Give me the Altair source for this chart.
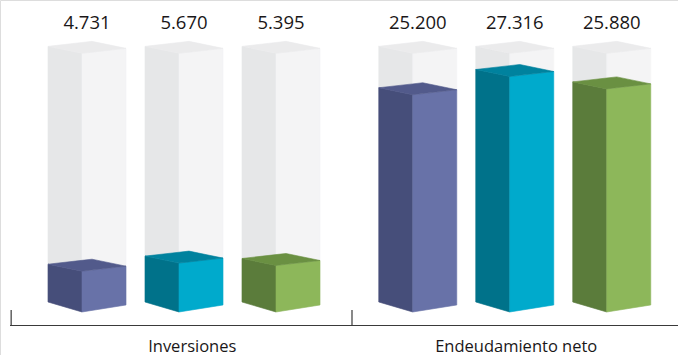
import altair as alt
import pandas as pd

# ---- data ----
groups = ["Inversiones", "Endeudamiento neto"]
inversiones = [4.731, 5.670, 5.395]
endeudamiento = [25.200, 27.316, 25.880]
background_max = 30.0

# colours per series: (left face, right face, top face)
series_colors = [
    ("#464e7a", "#6872a8", "#525a8b"),
    ("#00728a", "#00aacc", "#00829e"),
    ("#5b7c3b", "#8db75a", "#6a9042"),
]
gray_colors = ("#e6e7e8", "#f4f4f5", "#ebebec")

# ---- geometry style constants (slot units on x, pixel offsets converted on y) ----
PX_PER_UNIT = 8.62
k = 1.0 / PX_PER_UNIT
GROUP_START = [0.0, 3.41]
LABEL_SHIFT = [0.085, 0.015]
W = 0.804   # box width
A = 0.3505  # left face width
TL, TR, TB = 7, 5, 12    # top corner offsets (px): left, right, back
BL, BR = 10, 7           # bottom corner offsets (px): left, right

def box_rows(pid, xl, v, cols):
    xf, xa, xr = xl + A, xl + (W - A), xl + W
    rows = []
    # left face
    rows += [(pid + "L", xl, v + TL * k, BL * k, cols[0]),
             (pid + "L", xf, v, 0.0, cols[0])]
    # right face
    rows += [(pid + "R", xf, v, 0.0, cols[1]),
             (pid + "R", xr, v + TR * k, BR * k, cols[1])]
    # top face (parallelogram)
    B = W - A
    up_f = v + (TL + (TB - TL) * (A / B)) * k
    lo_a = v + TR * ((B - A) / (W - A)) * k
    rows += [(pid + "T", xl, v + TL * k, v + TL * k, cols[2]),
             (pid + "T", xf, up_f, v, cols[2]),
             (pid + "T", xa, v + TB * k, lo_a, cols[2]),
             (pid + "T", xr, v + TR * k, v + TR * k, cols[2])]
    return rows

gray_rows, color_rows, labels = [], [], []
for g, vals in enumerate([inversiones, endeudamiento]):
    for i, v in enumerate(vals):
        xl = GROUP_START[g] + i
        pid = f"{g}{i}"
        gray_rows += box_rows("g" + pid, xl, background_max, gray_colors)
        color_rows += box_rows("c" + pid, xl, v, series_colors[i])
        labels.append({"x": xl + W / 2, "y": background_max, "label": f"{v:.3f}"})

cols = ["pid", "x", "y", "y2", "col"]
gray_df = pd.DataFrame(gray_rows, columns=cols)
color_df = pd.DataFrame(color_rows, columns=cols)
label_df = pd.DataFrame(labels)
group_df = pd.DataFrame({
    "x": [s + (2 + W) / 2 + d for s, d in zip(GROUP_START, LABEL_SHIFT)],
    "label": groups,
})
tick_df = pd.DataFrame({"x": [GROUP_START[0] - 0.38,
                              (GROUP_START[0] + 2 + W + GROUP_START[1]) / 2 + 0.027]})

xs = alt.Scale(domain=[-0.495, 6.495], nice=False, zero=False)
ys = alt.Scale(domain=[-4.99, 36.19], nice=False, zero=False)

def faces(df):
    return alt.Chart(df).mark_area(orient="vertical", strokeWidth=0.6).encode(
        x=alt.X("x:Q", scale=xs, axis=None),
        y=alt.Y("y:Q", scale=ys, axis=None),
        y2="y2:Q",
        detail="pid:N",
        color=alt.Color("col:N", scale=None),
        stroke=alt.Stroke("col:N", scale=None),
    )

values_text = alt.Chart(label_df).mark_text(
    font="Open Sans", fontSize=18.5, color="#1a1718", baseline="alphabetic", dy=-24
).encode(
    x=alt.X("x:Q", scale=xs, axis=None),
    y=alt.Y("y:Q", scale=ys, axis=None),
    text="label:N",
)

group_text = alt.Chart(group_df).mark_text(
    font="Open Sans", fontSize=16.5, color="#1a1718", baseline="alphabetic"
).encode(
    x=alt.X("x:Q", scale=xs, axis=None),
    y=alt.value(351.5),
    text="label:N",
)

axis_line = alt.Chart(pd.DataFrame({"a": [0]})).mark_rule(
    color="#3a3a3a", strokeWidth=1.2
).encode(x=alt.value(10), x2=alt.value(678), y=alt.value(325.5))

ticks = alt.Chart(tick_df).mark_rule(color="#3a3a3a", strokeWidth=1.2).encode(
    x=alt.X("x:Q", scale=xs, axis=None),
    y=alt.value(310),
    y2=alt.value(325.5),
)

chart = alt.layer(
    faces(gray_df), faces(color_df), values_text, group_text, axis_line, ticks
).properties(
    width=678, height=355, padding=0, autosize=alt.AutoSizeParams(type="none")
).configure_view(stroke=None).configure(background="white")

chart.save("out.html", embed_options={"renderer": "svg", "actions": False})
